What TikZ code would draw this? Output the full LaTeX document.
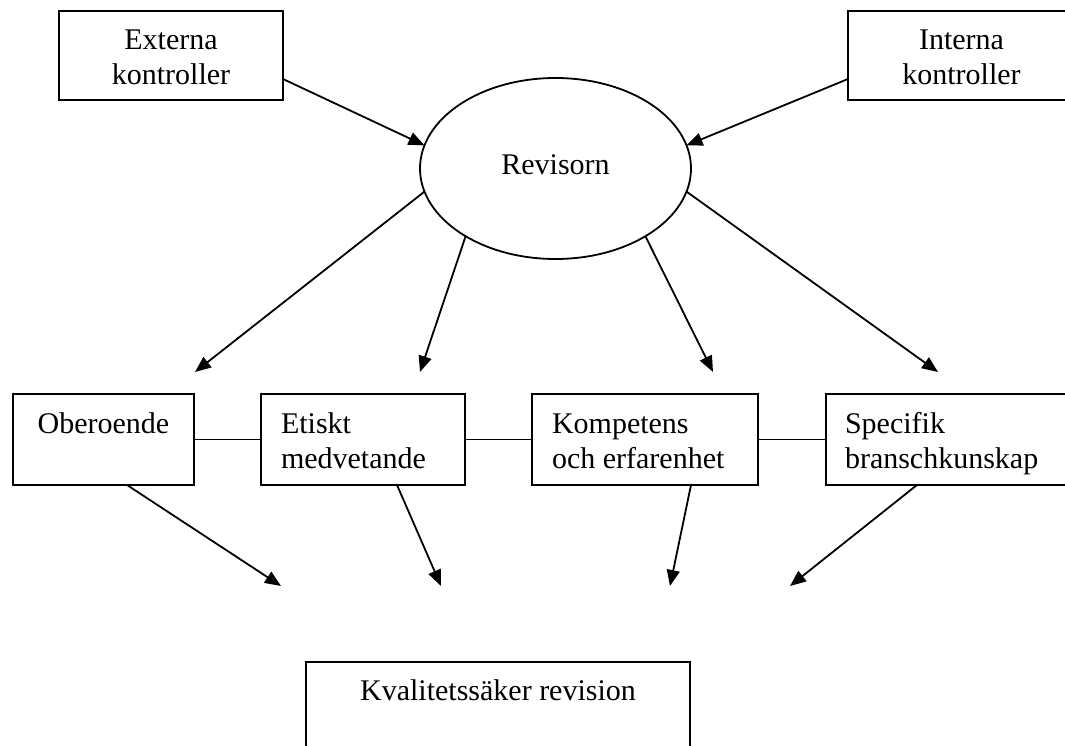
\documentclass[tikz,border=0pt]{standalone}
\usepackage{fontspec}
\setmainfont{Liberation Serif}
\usetikzlibrary{arrows.meta,shapes.geometric}
\begin{document}
\begin{tikzpicture}[x=1pt,y=-1pt,
  every node/.style={inner sep=0pt, outer sep=0pt},
  box/.style={draw, line width=1.8pt, rectangle, anchor=north west},
  txt/.style={font=\fontsize{30}{35}\selectfont, anchor=base},
  txtl/.style={font=\fontsize{30}{35}\selectfont, anchor=base west},
  arr/.style={line width=1.8pt, -{Triangle[length=16pt,width=13pt]}},
  link/.style={line width=1.8pt}]
\useasboundingbox (0,0) rectangle (1065,746);
\clip (0,0) rectangle (1065,746);

% top boxes
\node[box, minimum width=224pt, minimum height=89pt] (ext) at (59,11) {};
\node[txt] (ext1) at (171,49.5) {Externa};
\node[txt] (ext2) at (171,84.5) {kontroller};
\node[box, minimum width=224pt, minimum height=89pt] (int) at (848,11) {};
\node[txt] (int1) at (961.5,49.5) {Interna};
\node[txt] (int2) at (961.5,84.5) {kontroller};

% ellipse
\node[ellipse, draw, line width=1.8pt, minimum width=271pt, minimum height=181pt] (rev) at (555.5,168.5) {};
\node[txt] (revt) at (555.5,175) {Revisorn};

% middle boxes
\node[box, minimum width=181pt, minimum height=91pt] (obe) at (13,394) {};
\node[txt] (obe1) at (103.5,433) {Oberoende};
\node[box, minimum width=204pt, minimum height=91pt] (etk) at (261,394) {};
\node[txtl] (etk1) at (281,433) {Etiskt};
\node[txtl] (etk2) at (281,468) {medvetande};
\node[box, minimum width=226pt, minimum height=91pt] (kom) at (532,394) {};
\node[txtl] (kom1) at (552,433) {Kompetens};
\node[txtl] (kom2) at (552,468) {och erfarenhet};
\node[box, minimum width=244pt, minimum height=91pt] (spe) at (826,394) {};
\node[txtl] (spe1) at (845,433) {Specifik};
\node[txtl] (spe2) at (845,468) {branschkunskap};

% bottom box
\node[box, minimum width=384pt, minimum height=100pt] (kva) at (306,662) {};
\node[txt] (kva1) at (498,700) {Kvalitetssäker revision};

% free ends
\coordinate (t1) at (195,372);
\coordinate (t2) at (420,372);
\coordinate (t3) at (713,372);
\coordinate (t4) at (938,372);
\coordinate (b1) at (281,586);
\coordinate (b2) at (441,586);
\coordinate (b3) at (670,586);
\coordinate (b4) at (790,586);

% connectors
\draw[arr] ([yshift=-23.5pt]ext.east) -- (rev.170);
\draw[arr] ([yshift=-23.5pt]int.west) -- (rev.10);
\draw[arr] (rev.190) -- (t1);
\draw[arr] (rev.217) -- (t2);
\draw[arr] (rev.323) -- (t3);
\draw[arr] (rev.350) -- (t4);
\draw[link] (obe.east) -- (etk.west);
\draw[link] (etk.east) -- (kom.west);
\draw[link] (kom.east) -- (spe.west);
\draw[arr] ([xshift=23.5pt]obe.south) -- (b1);
\draw[arr] ([xshift=34pt]etk.south) -- (b2);
\draw[arr] ([xshift=46pt]kom.south) -- (b3);
\draw[arr] ([xshift=-31pt]spe.south) -- (b4);
\end{tikzpicture}
\end{document}
